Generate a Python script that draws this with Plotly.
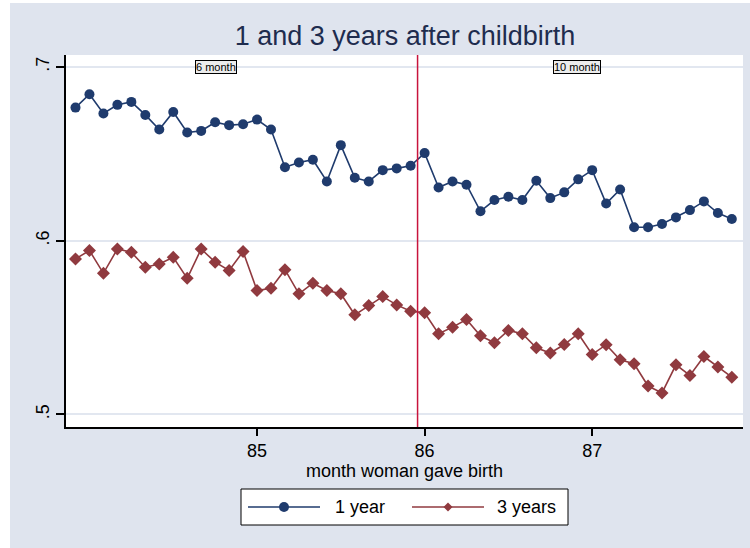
import plotly.graph_objects as go

# Monthly birth cohorts, Dec 1983 .. Nov 1987, as decimal years
birth_month = [84 + (k - 1) / 12 for k in range(48)]

# Employment share 1 year after childbirth
one_year = [
    0.6766, 0.6843, 0.6732, 0.6782, 0.6799, 0.6724, 0.6640, 0.6741, 0.6623, 0.6632,
    0.6682, 0.6665, 0.6670, 0.6697, 0.6640, 0.6423, 0.6450, 0.6466, 0.6341, 0.6550,
    0.6362, 0.6341, 0.6406, 0.6416, 0.6431, 0.6504, 0.6306, 0.6341, 0.6322, 0.6169,
    0.6234, 0.6253, 0.6234, 0.6345, 0.6245, 0.6278, 0.6353, 0.6406, 0.6214, 0.6295,
    0.6077, 0.6077, 0.6096, 0.6134, 0.6176, 0.6226, 0.6159, 0.6125,
]

# Employment share 3 years after childbirth
three_years = [
    0.5895, 0.5943, 0.5812, 0.5952, 0.5933, 0.5847, 0.5866, 0.5904, 0.5783, 0.5952,
    0.5876, 0.5828, 0.5937, 0.5713, 0.5726, 0.5833, 0.5694, 0.5755, 0.5713, 0.5694,
    0.5573, 0.5626, 0.5678, 0.5630, 0.5594, 0.5585, 0.5464, 0.5502, 0.5546, 0.5452,
    0.5412, 0.5483, 0.5464, 0.5383, 0.5353, 0.5402, 0.5464, 0.5345, 0.5401, 0.5314,
    0.5291, 0.5163, 0.5123, 0.5285, 0.5224, 0.5333, 0.5272, 0.5214,
]

series_names = ["1 year", "3 years"]

x_ticks = [85, 86, 87]
x_labels = ["85", "86", "87"]
y_ticks = [0.5, 0.6, 0.7]
y_labels = [".5", ".6", ".7"]

reform_month = 85.958
regime_labels = ["6 month", "10 month"]
regime_label_x = [84.755, 86.91]

NAVY = "#1f3b6d"
MAROON = "#903a3f"
BG = "#dfe4ee"
FONT = "Liberation Sans, Arial, sans-serif"

# Page geometry (pixels) used to place items outside the plotting area
W, H = 750, 548
ML, MR, MT, MB = 66, 7, 55, 121
PW, PH = W - ML - MR, H - MT - MB


def px(xp):
    return (xp - ML) / PW


def py(yp):
    return (H - MB - yp) / PH


fig = go.Figure()
fig.add_trace(go.Scatter(
    x=birth_month, y=one_year, name=series_names[0], mode="lines+markers",
    line=dict(color=NAVY, width=1.6),
    marker=dict(symbol="circle", size=10, color=NAVY),
))
fig.add_trace(go.Scatter(
    x=birth_month, y=three_years, name=series_names[1], mode="lines+markers",
    line=dict(color=MAROON, width=1.6),
    marker=dict(symbol="diamond", size=10, color=MAROON),
))

# Reform date
fig.add_shape(type="line", xref="x", yref="paper", x0=reform_month, x1=reform_month,
              y0=0, y1=1, line=dict(color="#c8143c", width=1.5))

# Thin white strips along the left and top edges of the page
fig.add_shape(type="rect", xref="paper", yref="paper", layer="below",
              x0=px(0), x1=px(10), y0=py(H), y1=py(0),
              line=dict(width=0), fillcolor="white")
fig.add_shape(type="rect", xref="paper", yref="paper", layer="below",
              x0=px(0), x1=px(W), y0=py(3), y1=py(0),
              line=dict(width=0), fillcolor="white")

for txt, xv in zip(regime_labels, regime_label_x):
    fig.add_annotation(x=xv, y=0.7, xref="x", yref="y", text=txt, showarrow=False,
                       font=dict(family=FONT, size=11, color="black"),
                       bgcolor="#ececec", bordercolor="black", borderwidth=1,
                       borderpad=0)

# Legend box below the axis title, with long key lines
LEG_L, LEG_R, LEG_T, LEG_B = 241, 568, 489, 525
LEG_Y = (LEG_T + LEG_B) / 2
fig.add_shape(type="rect", xref="paper", yref="paper",
              x0=px(LEG_L), x1=px(LEG_R), y0=py(LEG_B), y1=py(LEG_T),
              line=dict(color="black", width=1), fillcolor="white")

key_starts = [248, 412]
key_text_x = [333, 495]
key_colors = [NAVY, MAROON]
for k, (x0, tx, col, name) in enumerate(zip(key_starts, key_text_x, key_colors, series_names)):
    fig.add_shape(type="line", xref="paper", yref="paper",
                  x0=px(x0), x1=px(x0 + 72), y0=py(LEG_Y), y1=py(LEG_Y),
                  line=dict(color=col, width=1.5))
    cx = x0 + 36
    if k == 0:
        r = 5
        fig.add_shape(type="circle", xref="paper", yref="paper",
                      x0=px(cx - r), x1=px(cx + r), y0=py(LEG_Y + r), y1=py(LEG_Y - r),
                      line=dict(width=0), fillcolor=col)
    else:
        r = 4.5
        path = "M {} {} L {} {} L {} {} L {} {} Z".format(
            px(cx), py(LEG_Y - r), px(cx + r), py(LEG_Y),
            px(cx), py(LEG_Y + r), px(cx - r), py(LEG_Y))
        fig.add_shape(type="path", xref="paper", yref="paper", path=path,
                      line=dict(width=0), fillcolor=col)
    fig.add_annotation(x=px(tx), y=py(LEG_Y), xref="paper", yref="paper",
                       text=name, showarrow=False, xanchor="left", yanchor="middle",
                       font=dict(family=FONT, size=18, color="black"))

fig.update_layout(
    width=W, height=H, autosize=False,
    margin=dict(l=ML, r=MR, t=MT, b=MB),
    paper_bgcolor=BG, plot_bgcolor="white",
    font=dict(family=FONT, size=18, color="black"),
    title=dict(text="1 and 3 years after childbirth", x=(405 / W), xanchor="center",
               y=1 - 36 / H, yanchor="middle", yref="container",
               font=dict(family=FONT, size=27, color="#1e2c4e")),
    showlegend=False,
    xaxis=dict(range=[83.86, 87.90], tickvals=x_ticks, ticktext=x_labels,
               ticks="outside", ticklen=7, tickwidth=1.5, tickcolor="black",
               showline=True, linecolor="black", linewidth=1.5,
               showgrid=False, zeroline=False, mirror=False,
               title=dict(text="month woman gave birth", standoff=0,
                          font=dict(family=FONT, size=18))),
    yaxis=dict(range=[0.4927, 0.7069], tickvals=y_ticks, ticktext=y_labels,
               tickangle=-90, ticks="outside", ticklen=8, tickwidth=1.5,
               tickcolor="black", showline=True, linecolor="black", linewidth=1.5,
               showgrid=True, gridcolor="#e2e7f0", gridwidth=2, zeroline=False),
)

fig.write_html("out.html")
